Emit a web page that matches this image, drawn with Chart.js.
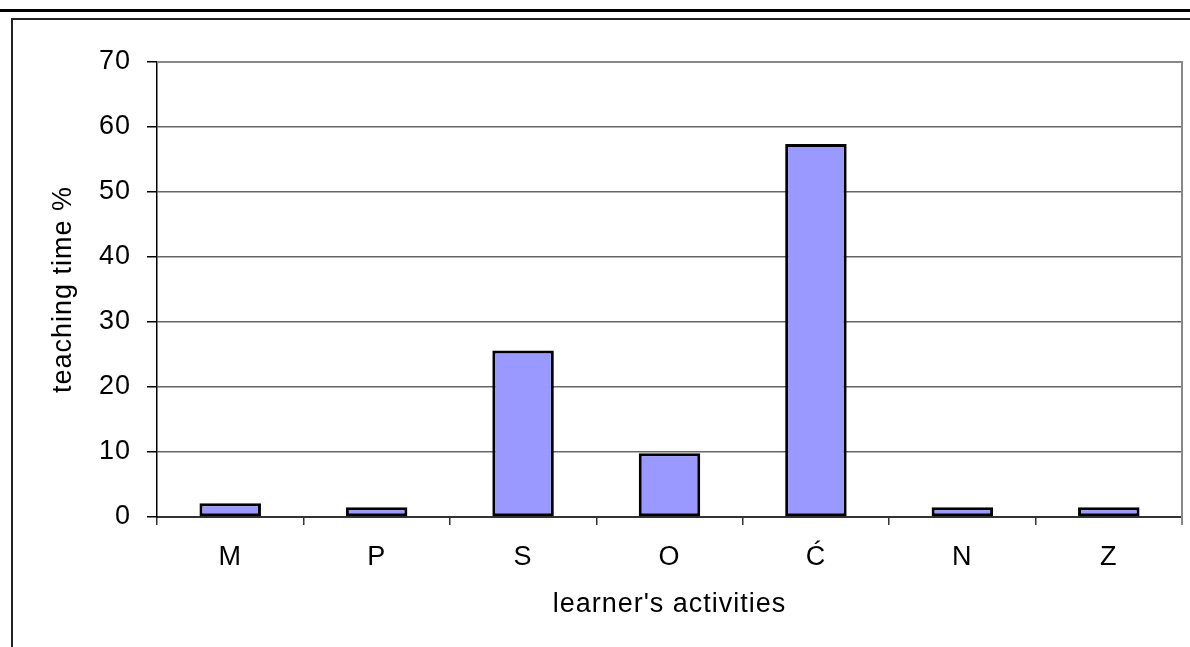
<!DOCTYPE html>
<html><head><meta charset="utf-8">
<script src="https://cdn.jsdelivr.net/npm/chart.js@4"></script>
<style>html,body{margin:0;padding:0;background:#fff;overflow:hidden}#c{display:block}</style>
</head><body>
<canvas id="c" width="1190" height="647"></canvas>
<script>
const categories = ['M', 'P', 'S', 'O', 'Ć', 'N', 'Z'];
const teachingTime = [2.1, 1.5, 25.6, 9.8, 57.4, 1.5, 1.5];
const yTickValues = [0, 10, 20, 30, 40, 50, 60, 70];
const xAxisTitle = "learner's activities";
const yAxisTitle = 'teaching time %';

Chart.defaults.font.family = '"Liberation Sans", Arial, sans-serif';
Chart.defaults.font.size = 27;
Chart.defaults.color = '#000';

const framePlugin = {
  id: 'frame',
  beforeDraw(chart) {
    const ctx = chart.ctx;
    ctx.save();
    ctx.fillStyle = '#fff';
    ctx.fillRect(0, 0, chart.width, chart.height);
    ctx.fillStyle = '#000';
    ctx.fillRect(0, 9, chart.width, 3);
    ctx.fillStyle = '#222';
    ctx.fillRect(11, 18, chart.width - 11, 2);
    ctx.fillRect(11, 18, 2, chart.height - 18);
    ctx.restore();
    ctx.letterSpacing = '1px';
  },
  afterDraw(chart) {
    const {ctx, chartArea: a} = chart;
    ctx.save();
    ctx.strokeStyle = '#888';
    ctx.lineWidth = 2;
    ctx.beginPath();
    ctx.moveTo(a.left, a.top);
    ctx.lineTo(a.right, a.top);
    ctx.lineTo(a.right, a.bottom + 8);
    ctx.stroke();
    ctx.restore();
  }
};

new Chart(document.getElementById('c'), {
  type: 'bar',
  data: {
    labels: categories,
    datasets: [{
      data: teachingTime,
      backgroundColor: '#9999FF',
      borderColor: '#000',
      borderWidth: 3,
      borderSkipped: false,
      barPercentage: 0.42,
      categoryPercentage: 1.0
    }]
  },
  options: {
    responsive: false,
    devicePixelRatio: 1,
    animation: false,
    layout: { padding: { top: 62, right: 8, left: 0, bottom: 0 } },
    plugins: { legend: { display: false }, tooltip: { enabled: false } },
    scales: {
      x: {
        offset: true,
        grid: { offset: true, drawOnChartArea: false, tickLength: 8, tickColor: '#333', lineWidth: 1.5 },
        border: { color: '#333', width: 2 },
        ticks: { padding: 16, maxRotation: 0, font: { size: 27 } },
        title: { display: true, text: xAxisTitle, font: { size: 27 }, padding: { top: 0, bottom: 26 } },
        afterFit(s) { s.height = 130; }
      },
      y: {
        min: 0, max: 70,
        afterBuildTicks(s) { s.ticks = yTickValues.map(v => ({ value: v })); },
        grid: {
          color: c => (c.tick && c.tick.value === 0) ? '#333' : '#666',
          lineWidth: 1.5,
          tickLength: 10,
          tickColor: '#000'
        },
        border: { color: '#000', width: 1.5 },
        ticks: { padding: 16, font: { size: 27 } },
        title: { display: true, text: yAxisTitle, font: { size: 27 }, padding: { top: 47, bottom: 0 } },
        afterFit(s) { s.width = 157; }
      }
    }
  },
  plugins: [framePlugin]
});
</script>
</body></html>
